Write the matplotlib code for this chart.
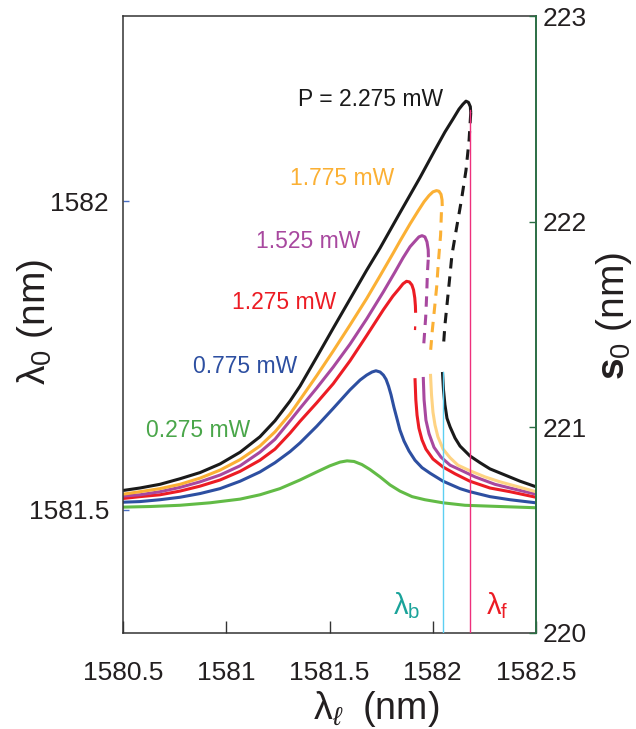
#!/usr/bin/env python3
"""Bistable resonance curves: lambda_0 vs laser wavelength for several pump powers."""
import matplotlib
matplotlib.use("Agg")
import matplotlib.pyplot as plt

FONT = "Liberation Sans"

# ---- data (nm) ----
black_x = [1580.500, 1580.582, 1580.679, 1580.776, 1580.873, 1580.970, 1581.067, 1581.163,
           1581.236, 1581.309, 1581.357, 1581.438, 1581.518, 1581.599, 1581.680, 1581.745,
           1581.841, 1581.938, 1582.011, 1582.059, 1582.098, 1582.127, 1582.146, 1582.161,
           1582.173, 1582.182, 1582.184]
black_y = [1581.531, 1581.535, 1581.541, 1581.550, 1581.560, 1581.574, 1581.593, 1581.618,
           1581.644, 1581.676, 1581.700, 1581.747, 1581.794, 1581.841, 1581.888, 1581.924,
           1581.981, 1582.038, 1582.083, 1582.112, 1582.133, 1582.149, 1582.157, 1582.162,
           1582.160, 1582.153, 1582.143]
black_dash_x = [1582.184, 1582.176, 1582.161, 1582.139, 1582.115, 1582.093, 1582.081, 1582.069,
                1582.059, 1582.051]
black_dash_y = [1582.143, 1582.099, 1582.050, 1582.002, 1581.956, 1581.913, 1581.872, 1581.832,
                1581.799, 1581.762]
black_low_x = [1582.047, 1582.052, 1582.059, 1582.069, 1582.084, 1582.108, 1582.132, 1582.180,
               1582.229, 1582.277, 1582.350, 1582.423, 1582.500]
black_low_y = [1581.723, 1581.694, 1581.670, 1581.648, 1581.634, 1581.616, 1581.603, 1581.587,
               1581.576, 1581.566, 1581.556, 1581.546, 1581.537]

orange_x = [1580.500, 1580.582, 1580.679, 1580.776, 1580.873, 1580.970, 1581.067, 1581.163,
            1581.236, 1581.309, 1581.357, 1581.438, 1581.518, 1581.599, 1581.680, 1581.745,
            1581.809, 1581.841, 1581.890, 1581.929, 1581.958, 1581.982, 1582.001, 1582.018,
            1582.030, 1582.040, 1582.045, 1582.046]
orange_y = [1581.525, 1581.529, 1581.534, 1581.541, 1581.551, 1581.564, 1581.581, 1581.603,
            1581.626, 1581.655, 1581.678, 1581.717, 1581.757, 1581.799, 1581.842, 1581.879,
            1581.916, 1581.935, 1581.963, 1581.984, 1581.999, 1582.009, 1582.015, 1582.017,
            1582.016, 1582.011, 1582.002, 1581.992]
orange_dash_x = [1582.042, 1582.038, 1582.032, 1582.027, 1582.019, 1582.008, 1581.998, 1581.990]
orange_dash_y = [1581.982, 1581.945, 1581.921, 1581.900, 1581.861, 1581.824, 1581.791, 1581.759]
orange_low_x = [1581.989, 1581.994, 1582.001, 1582.011, 1582.025, 1582.050, 1582.084, 1582.122,
                1582.180, 1582.253, 1582.326, 1582.413, 1582.500]
orange_low_y = [1581.720, 1581.686, 1581.658, 1581.637, 1581.618, 1581.598, 1581.584, 1581.572,
                1581.563, 1581.553, 1581.545, 1581.537, 1581.529]

purple_x = [1580.500, 1580.582, 1580.679, 1580.776, 1580.873, 1580.970, 1581.067, 1581.163,
            1581.236, 1581.309, 1581.357, 1581.438, 1581.518, 1581.599, 1581.680, 1581.761,
            1581.817, 1581.856, 1581.890, 1581.914, 1581.933, 1581.948, 1581.962, 1581.972,
            1581.978, 1581.979]
purple_y = [1581.522, 1581.524, 1581.529, 1581.536, 1581.545, 1581.556, 1581.571, 1581.593,
            1581.614, 1581.644, 1581.664, 1581.697, 1581.731, 1581.768, 1581.809, 1581.853,
            1581.885, 1581.908, 1581.926, 1581.935, 1581.942, 1581.944, 1581.942, 1581.934,
            1581.921, 1581.909]
purple_dash_x = [1581.978, 1581.974, 1581.971, 1581.966, 1581.959, 1581.954]
purple_dash_y = [1581.905, 1581.883, 1581.851, 1581.813, 1581.780, 1581.757]
purple_low_x = [1581.954, 1581.958, 1581.967, 1581.982, 1582.006, 1582.040, 1582.084, 1582.142,
                1582.205, 1582.301, 1582.398, 1582.500]
purple_low_y = [1581.715, 1581.678, 1581.645, 1581.623, 1581.601, 1581.585, 1581.572, 1581.563,
                1581.553, 1581.541, 1581.533, 1581.525]

red_x = [1580.500, 1580.582, 1580.679, 1580.776, 1580.873, 1580.970, 1581.067, 1581.163,
         1581.236, 1581.309, 1581.357, 1581.438, 1581.518, 1581.599, 1581.680, 1581.761,
         1581.807, 1581.837, 1581.856, 1581.873, 1581.887, 1581.899, 1581.907, 1581.913,
         1581.916, 1581.917]
red_y = [1581.518, 1581.521, 1581.524, 1581.530, 1581.538, 1581.548, 1581.562, 1581.580,
         1581.598, 1581.624, 1581.643, 1581.673, 1581.704, 1581.741, 1581.782, 1581.824,
         1581.846, 1581.858, 1581.866, 1581.870, 1581.869, 1581.864, 1581.856, 1581.843,
         1581.830, 1581.819]
red_dash_x = [1581.915, 1581.914]
red_dash_y = [1581.797, 1581.791]
red_low_x = [1581.914, 1581.918, 1581.924, 1581.933, 1581.948, 1581.967, 1582.001, 1582.050,
             1582.108, 1582.180, 1582.277, 1582.374, 1582.500]
red_low_y = [1581.713, 1581.678, 1581.653, 1581.632, 1581.613, 1581.598, 1581.582, 1581.569,
             1581.558, 1581.546, 1581.535, 1581.529, 1581.520]

blue_x = [1580.500, 1580.582, 1580.679, 1580.776, 1580.873, 1580.970, 1581.067, 1581.163,
          1581.236, 1581.309, 1581.357, 1581.438, 1581.518, 1581.599, 1581.648, 1581.680,
          1581.706, 1581.725, 1581.745, 1581.761, 1581.774, 1581.786, 1581.798, 1581.812,
          1581.827, 1581.841, 1581.861, 1581.885, 1581.914, 1581.948, 1581.987, 1582.050,
          1582.132, 1582.180, 1582.277, 1582.374, 1582.500]
blue_y = [1581.512, 1581.513, 1581.516, 1581.520, 1581.526, 1581.534, 1581.546, 1581.561,
          1581.576, 1581.594, 1581.608, 1581.635, 1581.664, 1581.694, 1581.710, 1581.718,
          1581.723, 1581.725, 1581.723, 1581.718, 1581.711, 1581.700, 1581.686, 1581.666,
          1581.647, 1581.629, 1581.611, 1581.595, 1581.580, 1581.568, 1581.559, 1581.546,
          1581.534, 1581.529, 1581.521, 1581.516, 1581.511]

green_x = [1580.500, 1580.631, 1580.776, 1580.921, 1581.067, 1581.163, 1581.260, 1581.357,
           1581.438, 1581.502, 1581.551, 1581.585, 1581.619, 1581.657, 1581.696, 1581.745,
           1581.793, 1581.841, 1581.900, 1581.962, 1582.050, 1582.156, 1582.326, 1582.500]
green_y = [1581.504, 1581.505, 1581.507, 1581.511, 1581.517, 1581.524, 1581.534, 1581.548,
           1581.561, 1581.571, 1581.577, 1581.579, 1581.578, 1581.573, 1581.565, 1581.553,
           1581.540, 1581.530, 1581.521, 1581.516, 1581.511, 1581.507, 1581.505, 1581.503]

lambda_b = 1582.048
lambda_f = 1582.180
lambda_b_top = 1581.723
lambda_f_top = 1582.148

x_ticks = [1580.5, 1581, 1581.5, 1582, 1582.5]
x_tick_labels = ["1580.5", "1581", "1581.5", "1582", "1582.5"]
left_ticks = [1581.5, 1582]
left_tick_labels = ["1581.5", "1582"]
right_ticks = [220, 221, 222, 223]

# ---- styling ----
C_BLACK = "#1a1a1a"
C_ORANGE = "#fbb034"
C_ORANGE_LIGHT = "#fed383"
C_PURPLE = "#a8489f"
C_RED = "#ec1c24"
C_BLUE = "#2d4fa1"
C_GREEN = "#62bb46"
C_GREEN_TXT = "#4aa64a"
C_CYAN = "#5ccff2"
C_PINK = "#ee2f7c"
C_TEAL = "#1aa39a"
C_AXGREEN = "#2b6e44"
C_TEXT = "#231f20"
LW = 2.2
DASH = (3.4, 2.6)

plt.rcParams["font.family"] = [FONT, "DejaVu Sans"]
plt.rcParams["mathtext.fontset"] = "custom"
plt.rcParams["mathtext.rm"] = FONT
plt.rcParams["mathtext.it"] = FONT + ":italic"
plt.rcParams["mathtext.bf"] = FONT + ":bold"

fig = plt.figure(figsize=(6.36, 7.29), dpi=100)
ax = fig.add_axes([123 / 636, 96 / 729, 413 / 636, 617 / 729])
ax2 = ax.twinx()

# curves: solid stable branches, dashed unstable branches
ax.plot(green_x, green_y, color=C_GREEN, lw=LW, zorder=2)
ax.plot(blue_x, blue_y, color=C_BLUE, lw=LW, zorder=2)
for xs, ys, c in [(red_x, red_y, C_RED), (red_low_x, red_low_y, C_RED),
                  (purple_x, purple_y, C_PURPLE), (purple_low_x, purple_low_y, C_PURPLE),
                  (orange_x, orange_y, C_ORANGE), (orange_low_x, orange_low_y, C_ORANGE_LIGHT),
                  (black_x, black_y, C_BLACK), (black_low_x, black_low_y, C_BLACK)]:
    ax.plot(xs, ys, color=c, lw=LW, zorder=2, solid_capstyle="butt", solid_joinstyle="round")
ax.plot(red_dash_x, red_dash_y, color=C_RED, lw=1.6, zorder=2, solid_capstyle="butt")
for xs, ys, c in [(purple_dash_x, purple_dash_y, C_PURPLE),
                  (orange_dash_x, orange_dash_y, C_ORANGE),
                  (black_dash_x, black_dash_y, C_BLACK)]:
    ax.plot(xs, ys, color=c, lw=LW, dashes=DASH, zorder=2, dash_capstyle="butt")

# lambda_b / lambda_f markers
ax.plot([lambda_b, lambda_b], [1581.3, lambda_b_top], color=C_CYAN, lw=1.0, zorder=3)
ax.plot([lambda_f, lambda_f], [1581.3, lambda_f_top], color=C_PINK, lw=1.0, zorder=3)
ax.text(1581.807, 1581.345, r"$\mathrm{\lambda}_\mathrm{b}$", color=C_TEAL, fontsize=21,
        ha="left", va="center")
ax.text(1582.258, 1581.345, r"$\mathrm{\lambda}_\mathrm{f}$", color=C_RED, fontsize=21,
        ha="left", va="center")

# power labels
lab_kw = dict(fontsize=16.5, ha="left", va="center")
ax.text(1581.347, 1582.164, "P = 2.275 mW", color=C_BLACK, **lab_kw)
ax.text(1581.309, 1582.036, "1.775 mW", color=C_ORANGE, **lab_kw)
ax.text(1581.144, 1581.935, "1.525 mW", color=C_PURPLE, **lab_kw)
ax.text(1581.029, 1581.836, "1.275 mW", color=C_RED, **lab_kw)
ax.text(1580.840, 1581.732, "0.775 mW", color=C_BLUE, **lab_kw)
ax.text(1580.611, 1581.628, "0.275 mW", color=C_GREEN_TXT, **lab_kw)

# axes
ax.set_xlim(1580.5, 1582.5)
ax.set_ylim(1581.3, 1582.3)
ax2.set_ylim(220, 223)
ax.set_xticks(x_ticks)
ax.set_xticklabels(x_tick_labels)
ax.set_yticks(left_ticks)
ax.set_yticklabels(left_tick_labels)
ax2.set_yticks(right_ticks)

ax.tick_params(axis="x", direction="in", length=9, width=1.0, color="#333333",
               pad=20, labelsize=19, labelcolor=C_TEXT)
ax.tick_params(axis="y", direction="in", length=4, width=1.0, color="#4a6fc4",
               pad=10, labelsize=19, labelcolor=C_TEXT)
ax2.tick_params(axis="y", direction="in", length=5, width=1.0, color=C_AXGREEN,
                pad=5, labelsize=19, labelcolor=C_TEXT)

for side in ["left", "top", "bottom"]:
    ax.spines[side].set_color("#333333")
    ax.spines[side].set_linewidth(1.1)
ax.spines["right"].set_visible(False)
for side in ["left", "top", "bottom"]:
    ax2.spines[side].set_visible(False)
ax2.spines["right"].set_color(C_AXGREEN)
ax2.spines["right"].set_linewidth(1.4)

# axis titles
fig.text(35 / 636, 1 - 322 / 729, r"$\mathrm{\lambda}_0$ (nm)", rotation=90, ha="center",
         va="center", fontsize=28, color=C_TEXT)
fig.text(376 / 636, 1 - 709 / 729, r"$\mathrm{\lambda}_\ell$  (nm)", ha="center",
         va="center", fontsize=27, color=C_TEXT)
fig.text(614 / 636, 1 - 316 / 729, r"$\mathbf{s}_0$ (nm)", rotation=90, ha="center",
         va="center", fontsize=28, color=C_TEXT)

fig.savefig("out.png", dpi=100)
